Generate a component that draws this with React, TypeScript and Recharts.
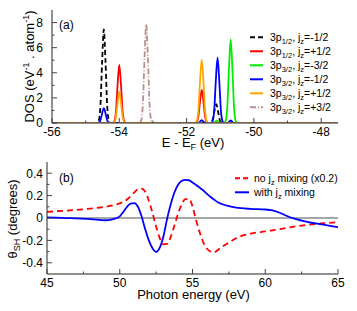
import React from 'react';
import { LineChart, Line, XAxis, YAxis, Label, ReferenceLine } from 'recharts';

const FONT = '"Liberation Sans", Arial, Helvetica, sans-serif';

// (a) partial DOS, points are [E - E_F, DOS]
const p12Minus: [number, number][] = [
  [-56, 0], [-54.66, 0], [-54.61, 0.19], [-54.56, 1.4], [-54.51, 4.9], [-54.46, 7.45], [-54.41, 4.9], [-54.36, 1.4], [-54.31, 0.19], [-54.26, 0],
  [-51.32, 0], [-51.27, 0.04], [-51.22, 0.3], [-51.17, 1.0], [-51.12, 1.5], [-51.07, 1.0], [-51.02, 0.3], [-50.97, 0.04], [-50.92, 0],
  [-47.5, 0],
];
const p12Plus: [number, number][] = [
  [-56, 0], [-54.2, 0], [-54.15, 0.12], [-54.1, 0.88], [-54.05, 3.07], [-54.0, 4.65], [-53.95, 3.07], [-53.9, 0.88], [-53.85, 0.12], [-53.8, 0],
  [-51.75, 0], [-51.7, 0.07], [-51.65, 0.5], [-51.6, 1.74], [-51.55, 2.64], [-51.5, 1.74], [-51.45, 0.5], [-51.4, 0.07], [-51.35, 0],
  [-47.5, 0],
];
const p32Minus32: [number, number][] = [
  [-56, 0], [-51.2, 0], [-51.1, 0.2], [-51.0, 0],
  [-50.89, 0], [-50.84, 0.17], [-50.79, 1.26], [-50.74, 4.39], [-50.69, 6.65], [-50.64, 4.39], [-50.59, 1.26], [-50.54, 0.17], [-50.49, 0],
  [-47.5, 0],
];
const p32Minus12: [number, number][] = [
  [-56, 0], [-54.66, 0], [-54.61, 0.03], [-54.56, 0.22], [-54.51, 0.78], [-54.46, 1.18], [-54.41, 0.78], [-54.36, 0.22], [-54.31, 0.03], [-54.26, 0],
  [-51.65, 0], [-51.55, 0.22], [-51.45, 0],
  [-51.28, 0], [-51.23, 0.13], [-51.18, 0.99], [-51.13, 3.43], [-51.08, 5.2], [-51.03, 3.43], [-50.98, 0.99], [-50.93, 0.13], [-50.88, 0],
  [-50.79, 0], [-50.69, 0.2], [-50.59, 0],
  [-47.5, 0],
];
const p32Plus12: [number, number][] = [
  [-56, 0], [-54.2, 0], [-54.15, 0.06], [-54.1, 0.48], [-54.05, 1.65], [-54.0, 2.5], [-53.95, 1.65], [-53.9, 0.48], [-53.85, 0.06], [-53.8, 0],
  [-51.75, 0], [-51.7, 0.13], [-51.65, 0.96], [-51.6, 3.33], [-51.55, 5.05], [-51.5, 3.33], [-51.45, 0.96], [-51.4, 0.13], [-51.35, 0],
  [-47.5, 0],
];
const p32Plus32: [number, number][] = [
  [-56, 0], [-53.4, 0], [-53.35, 0.2], [-53.3, 1.49], [-53.25, 5.18], [-53.2, 7.85], [-53.15, 5.18], [-53.1, 1.49], [-53.05, 0.2], [-53.0, 0],
  [-47.5, 0],
];

const dosEnergyTicks = [-56, -55, -54, -53, -52, -51, -50, -49, -48];
const dosEnergyMajor = [-56, -54, -52, -50, -48];
const dosTicks = [0, 1, 2, 3, 4, 5, 6, 7, 8];
const dosMajor = [0, 2, 4, 6, 8];

// (b) spin Hall angle vs photon energy
const photonE = [
  45, 46, 47, 48, 49, 49.5,
  50, 50.25, 50.5, 50.75, 51, 51.25, 51.5, 51.75, 52, 52.25, 52.5, 52.75, 53, 53.25, 53.5, 53.75, 54, 54.25, 54.5, 54.75,
  55, 55.25, 55.5, 55.75, 56, 56.25, 56.5, 56.75, 57,
  57.5, 58, 59, 60, 60.5, 61, 61.5, 62, 63, 64, 65,
];
const noMixing = [
  0.055, 0.063, 0.072, 0.084, 0.1, 0.112,
  0.13, 0.145, 0.165, 0.195, 0.228, 0.257, 0.262, 0.235, 0.155, 0.045, -0.075, -0.18, -0.235, -0.232, -0.17, -0.07, 0.035, 0.12, 0.168, 0.172,
  0.105, -0.02, -0.13, -0.22, -0.275, -0.3, -0.305, -0.285, -0.26,
  -0.22, -0.18, -0.14, -0.12, -0.11, -0.1, -0.088, -0.077, -0.06, -0.047, -0.037,
];
const withMixing = [
  0.005, 0.002, -0.004, -0.01, -0.02, -0.012,
  0.015, 0.055, 0.1, 0.128, 0.132, 0.1, 0.015, -0.1, -0.2, -0.27, -0.303, -0.265, -0.165, -0.01, 0.12, 0.225, 0.295, 0.33, 0.34, 0.337,
  0.318, 0.295, 0.27, 0.245, 0.215, 0.188, 0.163, 0.14, 0.125,
  0.105, 0.092, 0.081, 0.076, 0.068, 0.047, 0.018, -0.006, -0.038, -0.06, -0.082,
];

const photonTicks = [45, 47.5, 50, 52.5, 55, 57.5, 60, 62.5, 65];
const photonMajor = [45, 50, 55, 60, 65];
const thetaTicks = [-0.4, -0.3, -0.2, -0.1, 0, 0.1, 0.2, 0.3, 0.4];
const thetaMajor = [-0.4, -0.2, 0, 0.2, 0.4];

const dosSeries = [
  { key: 'a', pts: p12Minus, sub: '1/2', jz: '-1/2', color: '#000000', dash: '5 3' },
  { key: 'b', pts: p12Plus, sub: '1/2', jz: '+1/2', color: '#ff0000', dash: undefined },
  { key: 'c', pts: p32Minus32, sub: '3/2', jz: '-3/2', color: '#00ee00', dash: undefined },
  { key: 'd', pts: p32Minus12, sub: '3/2', jz: '-1/2', color: '#0000ff', dash: undefined },
  { key: 'e', pts: p32Plus12, sub: '3/2', jz: '+1/2', color: '#ffa500', dash: undefined },
  { key: 'f', pts: p32Plus32, sub: '3/2', jz: '+3/2', color: '#bc8f8f', dash: '6 2 1 2' },
];

const thetaRows = photonE.map((E, i) => ({ E, noMix: noMixing[i], withMix: withMixing[i] }));

const thetaLegend = [
  { color: '#ff0000', dash: '5 3', pre: 'no j', post: ' mixing (x0.2)' },
  { color: '#0000ff', dash: undefined, pre: 'with j', post: ' mixing' },
];

const AXIS = '#222';
const TICK = '#444';

type Side = 'bottom' | 'top' | 'left' | 'right';

const makeTick = (side: Side, majors: number[], fmt?: (v: number) => string, gap = 4) => (props: any) => {
  const { x, y, payload } = props;
  const v = payload.value;
  const major = majors.some((m) => Math.abs(m - v) < 1e-6);
  const len = major ? 5 : 2.5;
  const txt = { fontFamily: FONT, fontSize: 12, fill: '#000' };
  if (side === 'bottom') {
    return (
      <g>
        <line x1={x} x2={x} y1={y} y2={y - len} stroke={TICK} />
        {major && fmt && <text x={x} y={y + 12.5} textAnchor="middle" {...txt}>{fmt(v)}</text>}
      </g>
    );
  }
  if (side === 'top') return <line x1={x} x2={x} y1={y} y2={y + len} stroke={TICK} />;
  if (side === 'left') {
    return (
      <g>
        <line x1={x} x2={x + len} y1={y} y2={y} stroke={TICK} />
        {major && fmt && <text x={x - gap} y={y + 4.3} textAnchor="end" {...txt}>{fmt(v)}</text>}
      </g>
    );
  }
  return <line x1={x} x2={x - len} y1={y} y2={y} stroke={TICK} />;
};

const fmtInt = (v: number) => String(v);
const fmtTheta = (v: number) => (v === 0 ? '0' : v.toFixed(1));

const titleStyle = { fontFamily: FONT, fontSize: 13, fill: '#000' };
const legendText = { fontFamily: FONT, fontSize: 10.5, fill: '#000' };

// x title, panel tag and legend of (a), drawn in the chart's svg
const DosOverlay = () => (
  <g>
    <text x={193} y={146.5} textAnchor="middle" {...titleStyle}>
      E - E<tspan dy={3} fontSize={9}>F</tspan>
      <tspan dy={-3}> (eV)</tspan>
    </text>
    <text x={59} y={29} fontFamily={FONT} fontSize={12}>(a)</text>
    {dosSeries.map((s, i) => {
      const y = 37.3 + i * 14;
      return (
        <g key={s.key}>
          <line x1={250} x2={263} y1={y} y2={y} stroke={s.color} strokeWidth={2} strokeDasharray={s.dash} />
          <text x={270} y={y + 3.8} {...legendText}>
            3p<tspan dy={2.5} fontSize={7.5}>{s.sub}</tspan>
            <tspan dy={-2.5}>, j</tspan>
            <tspan dy={2.5} fontSize={7.5}>z</tspan>
            <tspan dy={-2.5}>={s.jz}</tspan>
          </text>
        </g>
      );
    })}
  </g>
);

const ThetaOverlay = () => (
  <g>
    <text x={193.5} y={148.5} textAnchor="middle" {...titleStyle}>
      Photon energy (eV)
    </text>
    <text x={59} y={31.5} fontFamily={FONT} fontSize={12}>(b)</text>
    {thetaLegend.map((r, i) => {
      const y = 28.3 + i * 14;
      return (
        <g key={r.pre}>
          <line x1={235} x2={249} y1={y} y2={y} stroke={r.color} strokeWidth={2} strokeDasharray={r.dash} />
          <text x={254} y={y + 3.8} {...legendText}>
            {r.pre}
            <tspan dy={2.5} fontSize={7.5}>z</tspan>
            <tspan dy={-2.5}>{r.post}</tspan>
          </text>
        </g>
      );
    })}
  </g>
);

export default function App() {
  return (
    <div style={{ position: 'absolute', left: 0, top: 0, width: 357, height: 311, background: '#fff' }}>
      <div style={{ position: 'absolute', left: 0, top: 0 }}>
        <LineChart width={357} height={150} margin={{ top: 10, right: 19, left: 12, bottom: 0 }}>
          <XAxis
            xAxisId="top"
            orientation="top"
            type="number"
            dataKey="e"
            domain={[-56, -47.5]}
            allowDataOverflow
            ticks={dosEnergyTicks}
            interval={0}
            height={0}
            tickSize={0}
            tickMargin={0}
            axisLine={{ stroke: AXIS }}
            tickLine={false}
            tick={makeTick('top', dosEnergyMajor)}
          />
          <XAxis
            type="number"
            dataKey="e"
            domain={[-56, -47.5]}
            allowDataOverflow
            ticks={dosEnergyTicks}
            interval={0}
            height={27}
            tickSize={0}
            tickMargin={0}
            axisLine={{ stroke: AXIS }}
            tickLine={false}
            tick={makeTick('bottom', dosEnergyMajor, fmtInt)}
          >
            <Label content={() => <DosOverlay />} />
          </XAxis>
          <YAxis
            type="number"
            domain={[0, 9]}
            allowDataOverflow
            ticks={dosTicks}
            interval={0}
            width={40}
            tickSize={0}
            tickMargin={0}
            axisLine={{ stroke: AXIS }}
            tickLine={false}
            tick={makeTick('left', dosMajor, fmtInt, 9)}
          >
            <Label
              content={() => (
                <text x={34} y={66.5} textAnchor="middle" transform="rotate(-90 34 66.5)" {...titleStyle}>
                  DOS (eV<tspan dy={-5} fontSize={9}>-1</tspan>
                  <tspan dy={5}> . atom</tspan>
                  <tspan dy={-5} fontSize={9}>-1</tspan>
                  <tspan dy={5}>)</tspan>
                </text>
              )}
            />
          </YAxis>
          <YAxis
            yAxisId="right"
            orientation="right"
            type="number"
            domain={[0, 9]}
            allowDataOverflow
            ticks={dosTicks}
            interval={0}
            width={0}
            tickSize={0}
            tickMargin={0}
            axisLine={{ stroke: AXIS }}
            tickLine={false}
            tick={makeTick('right', dosMajor)}
          />
          {dosSeries.map((s) => (
            <Line
              key={s.key}
              data={s.pts.map(([e, dos]) => ({ e, dos }))}
              dataKey="dos"
              type="monotone"
              stroke={s.color}
              strokeWidth={1.8}
              strokeDasharray={s.dash}
              dot={false}
              activeDot={false}
              isAnimationActive={false}
            />
          ))}
        </LineChart>
      </div>

      <div style={{ position: 'absolute', left: 0, top: 150 }}>
        <LineChart width={357} height={161} data={thetaRows} margin={{ top: 12, right: 19, left: 7, bottom: 0 }}>
          <XAxis
            xAxisId="top"
            orientation="top"
            type="number"
            dataKey="E"
            domain={[45, 65]}
            allowDataOverflow
            ticks={photonTicks}
            interval={0}
            height={0}
            tickSize={0}
            tickMargin={0}
            axisLine={{ stroke: AXIS }}
            tickLine={false}
            tick={makeTick('top', photonMajor)}
          />
          <XAxis
            type="number"
            dataKey="E"
            domain={[45, 65]}
            allowDataOverflow
            ticks={photonTicks}
            interval={0}
            height={37}
            tickSize={0}
            tickMargin={0}
            axisLine={{ stroke: AXIS }}
            tickLine={false}
            tick={makeTick('bottom', photonMajor, fmtInt)}
          >
            <Label content={() => <ThetaOverlay />} />
          </XAxis>
          <YAxis
            type="number"
            domain={[-0.5, 0.5]}
            allowDataOverflow
            ticks={thetaTicks}
            interval={0}
            width={40}
            tickSize={0}
            tickMargin={0}
            axisLine={{ stroke: AXIS }}
            tickLine={false}
            tick={makeTick('left', thetaMajor, fmtTheta, 4)}
          >
            <Label
              content={() => (
                <text x={16.5} y={69} textAnchor="middle" transform="rotate(-90 16.5 69)" {...titleStyle}>
                  θ<tspan dy={3} fontSize={9}>SH</tspan>
                  <tspan dy={-3}> (degrees)</tspan>
                </text>
              )}
            />
          </YAxis>
          <YAxis
            yAxisId="right"
            orientation="right"
            type="number"
            domain={[-0.5, 0.5]}
            allowDataOverflow
            ticks={thetaTicks}
            interval={0}
            width={0}
            tickSize={0}
            tickMargin={0}
            axisLine={{ stroke: AXIS }}
            tickLine={false}
            tick={makeTick('right', thetaMajor)}
          />
          <ReferenceLine y={0} stroke="#888" strokeWidth={1.5} />
          <Line dataKey="noMix" type="monotone" stroke="#ff0000" strokeWidth={1.8} strokeDasharray="6 4" dot={false} activeDot={false} isAnimationActive={false} />
          <Line dataKey="withMix" type="monotone" stroke="#0000ff" strokeWidth={1.8} dot={false} activeDot={false} isAnimationActive={false} />
        </LineChart>
      </div>
    </div>
  );
}
